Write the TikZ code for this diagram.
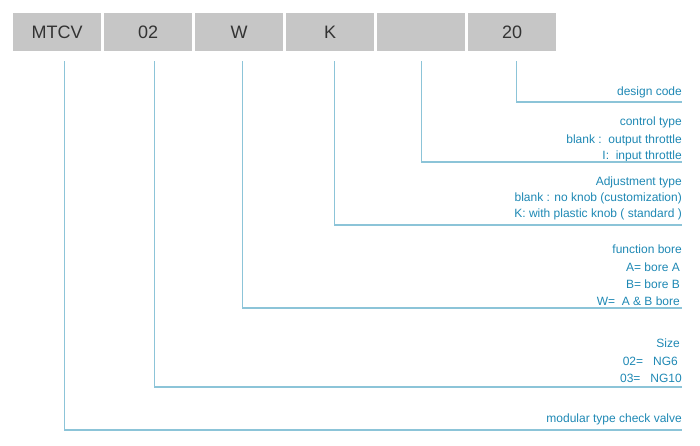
\documentclass[tikz,border=0pt]{standalone}
\usepackage{fontspec}
\setmainfont{Liberation Sans}
\begin{document}
\begin{tikzpicture}[x=1pt,y=-1pt,
  codebox/.style={fill=boxgray,minimum width=88pt,minimum height=38pt,inner sep=0pt,font=\fontsize{18}{18}\selectfont,text=codetext,anchor=north west},
  lead/.style={draw=leadblue,line width=1.1pt},
  desc/.style={anchor=east,inner sep=0pt,text=descblue,font=\fontsize{12}{13}\selectfont}]
\definecolor{boxgray}{HTML}{C6C6C6}
\definecolor{codetext}{HTML}{333333}
\definecolor{leadblue}{HTML}{8CC4D8}
\definecolor{descblue}{HTML}{1E88B4}
\useasboundingbox (0,0) rectangle (700,445);
\node[codebox] (b1) at (13,13) {MTCV};
\node[codebox] (b2) at (104,13) {02};
\node[codebox] (b3) at (195,13) {W};
\node[codebox] (b4) at (286,13) {K};
\node[codebox] (b5) at (377,13) {};
\node[codebox] (b6) at (468,13) {20};
% descriptions
\node[desc] (t6) at (682,92) {design code};
\node[desc] (t5a) at (682,122) {control type};
\node[desc] (t5b) at (682,140) {blank :\ \ output throttle};
\node[desc] (t5c) at (682,156) {I:\ \ input throttle};
\node[desc] (t4a) at (682,182) {Adjustment type};
\node[desc] (t4b) at (682,198) {blank : no knob (customization)};
\node[desc] (t4c) at (682,214) {K: with plastic knob ( standard )};
\node[desc] (t3a) at (682,249) {function bore};
\node[desc] (t3b) at (680,267) {A= bore A};
\node[desc] (t3c) at (680,284) {B= bore B};
\node[desc] (t3d) at (680,301) {W=\ \ A \& B bore};
\node[desc] (t2a) at (680,343) {Size};
\node[desc] (t2b) at (678,361) {02=\ \ \ NG6};
\node[desc] (t2c) at (682,378) {03=\ \ \ NG10};
\node[desc] (t1) at (682,419) {modular type check valve};
% line ends
\coordinate (e6) at (682,102);
\coordinate (e5) at (682,162);
\coordinate (e4) at (682,225);
\coordinate (e3) at (682,308);
\coordinate (e2) at (682,387);
\coordinate (e1) at (682,430);
\draw[lead] ([xshift=4pt,yshift=-10pt]b6.south) |- (e6);
\draw[lead] ([xshift=0pt,yshift=-10pt]b5.south) |- (e5);
\draw[lead] ([xshift=4pt,yshift=-10pt]b4.south) |- (e4);
\draw[lead] ([xshift=3pt,yshift=-10pt]b3.south) |- (e3);
\draw[lead] ([xshift=6pt,yshift=-10pt]b2.south) |- (e2);
\draw[lead] ([xshift=7pt,yshift=-10pt]b1.south) |- (e1);
\end{tikzpicture}
\end{document}
